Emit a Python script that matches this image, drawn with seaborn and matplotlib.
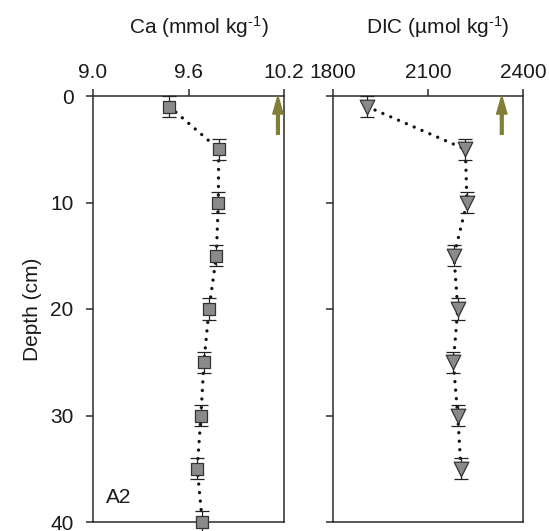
import matplotlib
matplotlib.use("Agg")
import matplotlib.pyplot as plt
import seaborn as sns
import pandas as pd

# ---- data ----
ca_depth = [1, 5, 10, 15, 20, 25, 30, 35, 40]
ca_vals = [9.48, 9.79, 9.787, 9.775, 9.729, 9.697, 9.678, 9.655, 9.687]
dic_depth = [1, 5, 10, 15, 20, 25, 30, 35]
dic_vals = [1908, 2218, 2223, 2182, 2194, 2180, 2194, 2204]
depth_err = 1.0
ca_arrow = 10.162
dic_arrow = 2333
ca_ticks = [9.0, 9.6, 10.2]
ca_ticklabels = ["9.0", "9.6", "10.2"]
dic_ticks = [1800, 2100, 2400]
depth_ticks = [0, 10, 20, 30, 40]

sns.set_theme(style="ticks")
plt.rcParams["font.family"] = ["Liberation Sans", "DejaVu Sans"]
plt.rcParams["mathtext.fontset"] = "custom"
plt.rcParams["mathtext.rm"] = "Liberation Sans"
plt.rcParams["mathtext.it"] = "Liberation Sans"

FS = 15
spine_c = "#2b2b2b"
fill_c = "#8a8a8a"
arrow_c = "#7f7f35"
text_c = "#1a1a1a"

fig = plt.figure(figsize=(5.49, 5.31), dpi=100)
ax1 = fig.add_axes([93 / 549, 1 - 522 / 531, 191 / 549, 426 / 531])
ax2 = fig.add_axes([333 / 549, 1 - 522 / 531, 190 / 549, 426 / 531])

df_ca = pd.DataFrame({"x": ca_vals, "depth": ca_depth})
df_dic = pd.DataFrame({"x": dic_vals, "depth": dic_depth})


def panel(ax, df, marker, msize, xlim, ticks, ticklabels, label):
    sns.lineplot(data=df, x="x", y="depth", orient="y", sort=False, ax=ax,
                 color="#111111", lw=2.4, linestyle=(0, (0.01, 2.55)),
                 dash_capstyle="round", estimator=None, zorder=2)
    ax.errorbar(df["x"], df["depth"], yerr=depth_err, fmt="none",
                ecolor="#222222", elinewidth=0.9, capsize=4.7, capthick=0.9,
                zorder=3, clip_on=False)
    sns.scatterplot(data=df, x="x", y="depth", ax=ax, marker=marker,
                    s=msize ** 2, color=fill_c, edgecolor="#333333",
                    linewidth=0.9, zorder=4, clip_on=False)
    ax.set_xlim(*xlim)
    ax.set_ylim(40, 0)
    ax.xaxis.set_ticks_position("top")
    ax.xaxis.set_label_position("top")
    ax.set_xticks(ticks)
    ax.set_xticklabels(ticklabels)
    ax.set_yticks(depth_ticks)
    ax.set_xlabel(label, fontsize=FS, labelpad=21, color=text_c)
    ax.xaxis.label.set_x(0.553)
    ax.tick_params(axis="x", direction="out", length=5, width=1.1,
                   pad=5, labelsize=FS, colors=spine_c, labelcolor=text_c)
    ax.tick_params(axis="y", direction="out", length=5, width=1.1,
                   pad=9, labelsize=FS, colors=spine_c, labelcolor=text_c)
    for s in ax.spines.values():
        s.set_visible(True)
        s.set_linewidth(1.1)
        s.set_color(spine_c)


panel(ax1, df_ca, "s", 8.6, (9.0, 10.2), ca_ticks, ca_ticklabels,
      "Ca (mmol kg$^{\\mathrm{\u20101}}$)")
panel(ax2, df_dic, "v", 10.5, (1800, 2400), dic_ticks,
      [str(t) for t in dic_ticks], "DIC (µmol kg$^{\\mathrm{\u20101}}$)")

ax1.set_ylabel("Depth (cm)", fontsize=FS, labelpad=6, color=text_c)
ax2.set_ylabel("")
ax2.set_yticklabels([])

ax1.text(9.08, 37.7, "A2", fontsize=FS, va="center", ha="left", color=text_c)

for ax, xv in ((ax1, ca_arrow), (ax2, dic_arrow)):
    ax.annotate("", xy=(xv, 0.0), xytext=(xv, 3.6),
                arrowprops=dict(facecolor=arrow_c, edgecolor=arrow_c,
                                width=2.0, headwidth=7.5, headlength=13,
                                shrink=0), annotation_clip=False, zorder=5)

fig.savefig("out.png", dpi=100)
